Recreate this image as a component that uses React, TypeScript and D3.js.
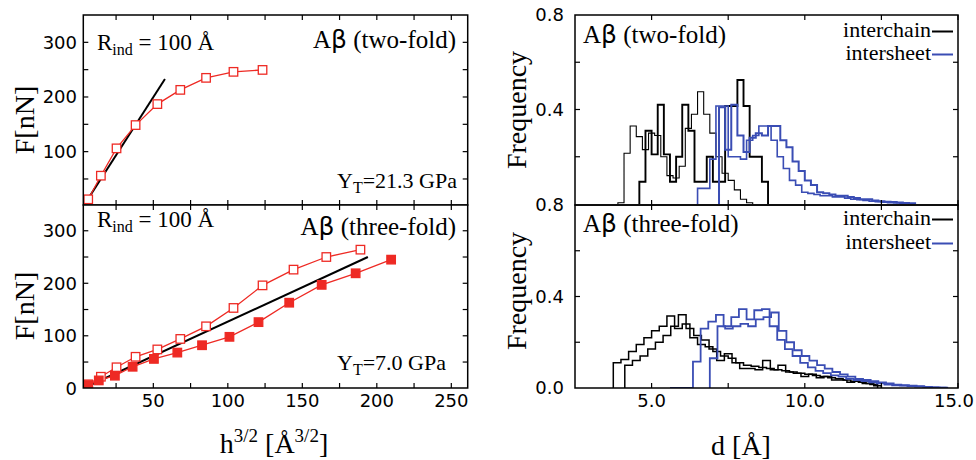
import React from "react";
import * as d3 from "d3";

// ---------- data ----------
// Left panels: indentation force vs h^{3/2}
const twoFoldH = [6.3, 14.8, 25.3, 38.1, 52.7, 68.1, 85.4, 103.8, 123.3];
const twoFoldF = [12.8, 56, 106, 148.6, 187, 213, 235, 246, 249.5];
const twoFoldFitH = [3, 57.8];
const twoFoldFitF = [0, 233];

const threeOpenH = [6.3, 14.8, 25.3, 38.1, 52.7, 68.1, 85.4, 103.8, 123.3, 144.1, 166.1, 189];
const threeOpenF = [7.6, 22, 40, 60, 74, 94, 118, 153, 196, 226, 250, 264];
const threeFilledH = [6.3, 13.4, 24.2, 36.1, 50.4, 66.1, 82.7, 101.1, 120.6, 141.2, 163, 185.8, 209.6];
const threeFilledF = [6, 15, 24, 41, 56, 68, 82, 98, 126, 163, 197, 219, 245];
const threeFitH = [3, 194];
const threeFitF = [0, 250];

const leftXTicks = [50, 100, 150, 200, 250];
const leftYTicks = [100, 200, 300];
const leftYTicksBottom = [0, 100, 200, 300];

// Right panels: distance histograms (bin start, bin width, frequencies)
const topBinW = 0.2;
const topChainThinStart = 3.9;
const topChainThin = [0.005, 0.215, 0.33, 0.285, 0.23, 0.3, 0.29, 0.2, 0.12, 0.11, 0.16, 0.32, 0.38, 0.475, 0.38, 0.3, 0.2, 0.13, 0.1, 0.06, 0.02, 0.005];
const topChainThickStart = 4.6;
const topChainThick = [0.094, 0.31, 0.21, 0.42, 0.21, 0.094, 0.2, 0.42, 0.31, 0.094, 0.094, 0.2, 0.094, 0.094, 0.415, 0.415, 0.525, 0.415, 0.2, 0.2, 0.094];
const topSheetAStart = 6.5;
const topSheetA = [0.066, 0.066, 0.19, 0.415, 0.415, 0.2, 0.2, 0.19, 0.27, 0.29, 0.33, 0.33, 0.27, 0.2, 0.15, 0.1, 0.08, 0.05, 0.045, 0.04, 0.035, 0.035, 0.03, 0.03, 0.025, 0.02, 0.018, 0.015, 0.012, 0.01, 0.008, 0.006, 0.004, 0.003];
const topSheetBStart = 7.2;
const topSheetB = [0.41, 0.23, 0.42, 0.29, 0.22, 0.28, 0.3, 0.29, 0.33, 0.33, 0.27, 0.24, 0.18, 0.14, 0.1, 0.08, 0.05, 0.045, 0.04, 0.035, 0.035, 0.03, 0.025, 0.02, 0.02, 0.015, 0.012, 0.01, 0.008, 0.006, 0.004, 0.003];

const botBinW = 0.25;
const botChainAStart = 3.75;
const botChainA = [0.11, 0.125, 0.16, 0.19, 0.22, 0.25, 0.27, 0.315, 0.26, 0.28, 0.22, 0.19, 0.18, 0.16, 0.14, 0.13, 0.11, 0.1, 0.095, 0.09, 0.085, 0.08, 0.075, 0.07, 0.065, 0.06, 0.055, 0.05, 0.045, 0.04, 0.035, 0.03, 0.025, 0.02, 0.01];
const botChainBStart = 4.125;
const botChainB = [0.1, 0.12, 0.14, 0.17, 0.2, 0.23, 0.27, 0.32, 0.26, 0.23, 0.21, 0.17, 0.12, 0.15, 0.11, 0.085, 0.085, 0.08, 0.12, 0.08, 0.1, 0.07, 0.065, 0.05, 0.06, 0.045, 0.05, 0.035, 0.035, 0.025, 0.03, 0.02, 0.015];
const botSheetAStart = 5.6;
const botSheetA = [0, 0, 0, 0.115, 0.26, 0.29, 0.32, 0.27, 0.31, 0.345, 0.3, 0.34, 0.345, 0.27, 0.21, 0.17, 0.14, 0.11, 0.09, 0.075, 0.065, 0.055, 0.05, 0.04, 0.035, 0.03, 0.025, 0.02, 0.015, 0.012, 0.01, 0.008, 0.006, 0.005, 0.003, 0.002];
const botSheetBStart = 6.9;
const botSheetB = [0.13, 0.27, 0.26, 0.27, 0.28, 0.27, 0.3, 0.31, 0.33, 0.25, 0.2, 0.165, 0.14, 0.12, 0.1, 0.085, 0.07, 0.06, 0.05, 0.04, 0.035, 0.03, 0.025, 0.02, 0.015, 0.012, 0.01, 0.008, 0.005, 0.003, 0.002];

const rightXTicks = [5, 10, 15];
const rightXMinor = [7.5, 12.5];
const rightYTicksTop = [0.4, 0.8];
const rightYTicksBottom = [0, 0.4, 0.8];
const rightYMinor = [0.2, 0.6];

// ---------- layout ----------
const RED = "#ee2a24";
const BLUE = "#3a4db4";
const SERIF = "'Liberation Serif', 'Times New Roman', serif";
const SANS = "'DejaVu Sans', sans-serif";

const L = { x0: 83.3, x1: 467.7 };
const R = { x0: 575, x1: 958 };
const TOP = { y0: 15, y1: 205 };
const BOT = { y0: 205, y1: 388 };

const xL = d3.scaleLinear().domain([3, 261]).range([L.x0, L.x1]);
const yLT = d3.scaleLinear().domain([0, 350]).range([206.3, 15]);
const yLB = d3.scaleLinear().domain([0, 350]).range([388.3, 204.5]);
const xR = d3.scaleLinear().domain([2.5, 15]).range([R.x0, R.x1]);
const yRT = d3.scaleLinear().domain([0, 0.8]).range([204, 15]);
const yRB = d3.scaleLinear().domain([0, 0.8]).range([388, 205]);

function stepPoints(start: number, w: number, vals: number[]): [number, number][] {
  const pts: [number, number][] = [[start, 0]];
  vals.forEach((v, i) => {
    pts.push([start + i * w, v]);
    pts.push([start + (i + 1) * w, v]);
  });
  pts.push([start + vals.length * w, 0]);
  return pts;
}

function Frame({ x0, x1, y0, y1 }: any) {
  return <rect x={x0} y={y0} width={x1 - x0} height={y1 - y0} fill="none" stroke="#000" strokeWidth={1.5} />;
}

function Ticks({ xs, ys, xScale, yScale, x0, x1, y0, y1, len }: any) {
  const out: any[] = [];
  xs.forEach((t: number, i: number) => {
    const x = xScale(t);
    out.push(<line key={"xb" + i} x1={x} x2={x} y1={y1} y2={y1 - len} stroke="#000" strokeWidth={1.2} />);
    out.push(<line key={"xt" + i} x1={x} x2={x} y1={y0} y2={y0 + len} stroke="#000" strokeWidth={1.2} />);
  });
  ys.forEach((t: number, i: number) => {
    const y = yScale(t);
    out.push(<line key={"yl" + i} x1={x0} x2={x0 + len} y1={y} y2={y} stroke="#000" strokeWidth={1.2} />);
    out.push(<line key={"yr" + i} x1={x1} x2={x1 - len} y1={y} y2={y} stroke="#000" strokeWidth={1.2} />);
  });
  return <g>{out}</g>;
}

function Beta() {
  return <tspan fontFamily={SANS}>β</tspan>;
}

export default function App() {
  const lineLT = d3.line<[number, number]>().x((d) => xL(d[0])).y((d) => yLT(d[1]));
  const lineLB = d3.line<[number, number]>().x((d) => xL(d[0])).y((d) => yLB(d[1]));
  const lineRT = d3.line<[number, number]>().x((d) => xR(d[0])).y((d) => yRT(d[1]));
  const lineRB = d3.line<[number, number]>().x((d) => xR(d[0])).y((d) => yRB(d[1]));

  const zip = (a: number[], b: number[]) => a.map((v, i) => [v, b[i]] as [number, number]);
  const two = zip(twoFoldH, twoFoldF);
  const threeO = zip(threeOpenH, threeOpenF);
  const threeF = zip(threeFilledH, threeFilledF);
  const sq = 8.5;

  const leftXMinor = d3.range(25, 261, 25);
  const leftYAll = d3.range(50, 350, 50);
  const rxAll = [...rightXTicks, ...rightXMinor];
  const ryAll = [...rightYMinor, 0.4];

  return (
    <svg width={976} height={460} style={{ position: "absolute", left: 0, top: 0, background: "#fff" }}>
      <defs>
        <clipPath id="clipLT"><rect x={L.x0} y={TOP.y0} width={L.x1 - L.x0} height={TOP.y1 - TOP.y0 - 1} /></clipPath>
        <clipPath id="clipLB"><rect x={L.x0} y={BOT.y0} width={L.x1 - L.x0} height={BOT.y1 - BOT.y0} /></clipPath>
        <clipPath id="clipRT"><rect x={R.x0} y={TOP.y0} width={R.x1 - R.x0} height={TOP.y1 - TOP.y0} /></clipPath>
        <clipPath id="clipRB"><rect x={R.x0} y={BOT.y0} width={R.x1 - R.x0} height={BOT.y1 - BOT.y0} /></clipPath>
      </defs>
      <rect x={0} y={0} width={976} height={460} fill="#fff" />

      {/* ===== Left top ===== */}
      <g clipPath="url(#clipLT)">
        <path d={lineLT(zip(twoFoldFitH, twoFoldFitF)) || ""} stroke="#000" strokeWidth={2} fill="none" />
        <path d={lineLT(two) || ""} stroke={RED} strokeWidth={1.3} fill="none" />
        {two.map((d, i) => (
          <rect key={i} x={xL(d[0]) - sq / 2} y={yLT(d[1]) - sq / 2} width={sq} height={sq} fill="#fff" stroke={RED} strokeWidth={1.3} />
        ))}
      </g>
      <Ticks xs={leftXMinor} ys={leftYAll} xScale={xL} yScale={yLT} x0={L.x0} x1={L.x1} y0={TOP.y0} y1={TOP.y1} len={5} />
      <Frame x0={L.x0} x1={L.x1} y0={TOP.y0} y1={TOP.y1} />
      {leftYTicks.map((t) => (
        <text key={t} x={77} y={yLT(t)} dy="0.36em" textAnchor="end" fontFamily={SANS} fontSize={18}>{t}</text>
      ))}
      <text x={97} y={50} fontFamily={SERIF} fontSize={23}>R<tspan fontSize={16} dy={5}>ind</tspan><tspan dy={-5}> = 100 Å</tspan></text>
      <text x={456} y={48} textAnchor="end" fontFamily={SERIF} fontSize={25}>A<Beta /> (two-fold)</text>
      <text x={457} y={188} textAnchor="end" fontFamily={SERIF} fontSize={22}>Y<tspan fontSize={16} dy={5}>T</tspan><tspan dy={-5}>=21.3 GPa</tspan></text>

      {/* ===== Left bottom ===== */}
      <rect x={L.x0} y={BOT.y0} width={L.x1 - L.x0} height={BOT.y1 - BOT.y0} fill="#fff" />
      <g clipPath="url(#clipLB)">
        <path d={lineLB(zip(threeFitH, threeFitF)) || ""} stroke="#000" strokeWidth={2} fill="none" />
        <path d={lineLB(threeO) || ""} stroke={RED} strokeWidth={1.3} fill="none" />
        <path d={lineLB(threeF) || ""} stroke={RED} strokeWidth={1.3} fill="none" />
        {threeO.map((d, i) => (
          <rect key={"o" + i} x={xL(d[0]) - sq / 2} y={yLB(d[1]) - sq / 2} width={sq} height={sq} fill="#fff" stroke={RED} strokeWidth={1.3} />
        ))}
        {threeF.map((d, i) => (
          <rect key={"f" + i} x={xL(d[0]) - sq / 2} y={yLB(d[1]) - sq / 2} width={sq} height={sq} fill={RED} stroke={RED} strokeWidth={1.3} />
        ))}
      </g>
      <Ticks xs={leftXMinor} ys={leftYAll} xScale={xL} yScale={yLB} x0={L.x0} x1={L.x1} y0={BOT.y0} y1={BOT.y1} len={5} />
      <Frame x0={L.x0} x1={L.x1} y0={BOT.y0} y1={BOT.y1} />
      {leftYTicksBottom.map((t) => (
        <text key={t} x={77} y={yLB(t)} dy="0.36em" textAnchor="end" fontFamily={SANS} fontSize={18}>{t}</text>
      ))}
      {leftXTicks.map((t) => (
        <text key={t} x={xL(t)} y={407} textAnchor="middle" fontFamily={SANS} fontSize={18}>{t}</text>
      ))}
      <text x={97} y={227} fontFamily={SERIF} fontSize={23}>R<tspan fontSize={16} dy={5}>ind</tspan><tspan dy={-5}> = 100 Å</tspan></text>
      <text x={456} y={235} textAnchor="end" fontFamily={SERIF} fontSize={25}>A<Beta /> (three-fold)</text>
      <text x={446} y={370} textAnchor="end" fontFamily={SERIF} fontSize={22}>Y<tspan fontSize={16} dy={5}>T</tspan><tspan dy={-5}>=7.0 GPa</tspan></text>

      {/* left axis titles */}
      <text transform="translate(34,120) rotate(-90)" textAnchor="middle" fontFamily={SERIF} fontSize={28}>F[nN]</text>
      <text transform="translate(34,306) rotate(-90)" textAnchor="middle" fontFamily={SERIF} fontSize={28}>F[nN]</text>
      <text x={274} y={453} textAnchor="middle" fontFamily={SERIF} fontSize={28}>
        h<tspan fontSize={19} dy={-11}>3/2</tspan><tspan dy={11}> [Å</tspan><tspan fontSize={19} dy={-11}>3/2</tspan><tspan dy={11}>]</tspan>
      </text>

      {/* ===== Right top ===== */}
      <g clipPath="url(#clipRT)" fill="none">
        <path d={lineRT(stepPoints(topChainThinStart, topBinW, topChainThin)) || ""} stroke="#000" strokeWidth={1.1} />
        <path d={lineRT(stepPoints(topChainThickStart, topBinW, topChainThick)) || ""} stroke="#000" strokeWidth={1.9} />
        <path d={lineRT(stepPoints(topSheetAStart, topBinW, topSheetA)) || ""} stroke={BLUE} strokeWidth={1.6} />
        <path d={lineRT(stepPoints(topSheetBStart, topBinW, topSheetB)) || ""} stroke={BLUE} strokeWidth={2} />
      </g>
      <Ticks xs={rxAll} ys={ryAll} xScale={xR} yScale={yRT} x0={R.x0} x1={R.x1} y0={TOP.y0} y1={TOP.y1} len={5} />
      <Frame x0={R.x0} x1={R.x1} y0={TOP.y0} y1={TOP.y1} />
      {rightYTicksTop.map((t) => (
        <text key={t} x={564} y={yRT(t)} dy="0.36em" textAnchor="end" fontFamily={SANS} fontSize={18}>{d3.format(".1f")(t)}</text>
      ))}
      <text x={583} y={43} fontFamily={SERIF} fontSize={25}>A<Beta /> (two-fold)</text>
      <text x={931} y={37} textAnchor="end" fontFamily={SERIF} fontSize={22}>interchain</text>
      <line x1={932} x2={953} y1={31.5} y2={31.5} stroke="#000" strokeWidth={2} />
      <text x={931} y={60} textAnchor="end" fontFamily={SERIF} fontSize={22}>intersheet</text>
      <line x1={932} x2={953} y1={54.5} y2={54.5} stroke={BLUE} strokeWidth={2} />

      {/* ===== Right bottom ===== */}
      <g clipPath="url(#clipRB)" fill="none">
        <path d={lineRB(stepPoints(botChainAStart, botBinW, botChainA)) || ""} stroke="#000" strokeWidth={1.5} />
        <path d={lineRB(stepPoints(botChainBStart, botBinW, botChainB)) || ""} stroke="#000" strokeWidth={1.5} />
        <path d={lineRB(stepPoints(botSheetAStart, botBinW, botSheetA)) || ""} stroke={BLUE} strokeWidth={1.8} />
        <path d={lineRB(stepPoints(botSheetBStart, botBinW, botSheetB)) || ""} stroke={BLUE} strokeWidth={1.8} />
      </g>
      <Ticks xs={rxAll} ys={ryAll} xScale={xR} yScale={yRB} x0={R.x0} x1={R.x1} y0={BOT.y0} y1={BOT.y1} len={5} />
      <Frame x0={R.x0} x1={R.x1} y0={BOT.y0} y1={BOT.y1} />
      {rightYTicksBottom.map((t) => (
        <text key={t} x={564} y={yRB(t)} dy="0.36em" textAnchor="end" fontFamily={SANS} fontSize={18}>{d3.format(".1f")(t)}</text>
      ))}
      {rightXTicks.map((t) => (
        <text key={t} x={Math.min(xR(t), 954)} y={407} textAnchor="middle" fontFamily={SANS} fontSize={18}>{d3.format(".1f")(t)}</text>
      ))}
      <text x={583} y={232} fontFamily={SERIF} fontSize={25}>A<Beta /> (three-fold)</text>
      <text x={931} y={225} textAnchor="end" fontFamily={SERIF} fontSize={22}>interchain</text>
      <line x1={932} x2={953} y1={219.5} y2={219.5} stroke="#000" strokeWidth={2} />
      <text x={931} y={249} textAnchor="end" fontFamily={SERIF} fontSize={22}>intersheet</text>
      <line x1={932} x2={953} y1={243.5} y2={243.5} stroke={BLUE} strokeWidth={2} />

      {/* right axis titles */}
      <text transform="translate(526,110) rotate(-90)" textAnchor="middle" fontFamily={SERIF} fontSize={28}>Frequency</text>
      <text transform="translate(526,291) rotate(-90)" textAnchor="middle" fontFamily={SERIF} fontSize={28}>Frequency</text>
      <text x={741} y={455} textAnchor="middle" fontFamily={SERIF} fontSize={28}>d [Å]</text>
    </svg>
  );
}
